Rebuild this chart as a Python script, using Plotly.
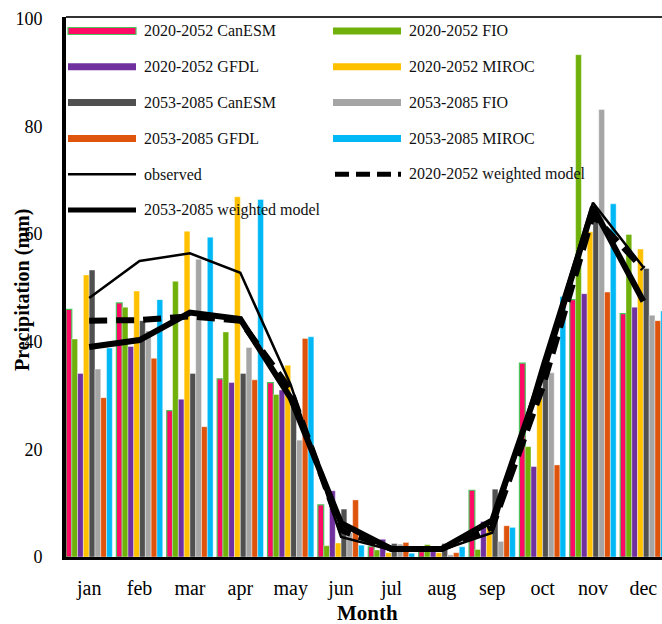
import plotly.graph_objects as go

months = ["jan", "feb", "mar", "apr", "may", "jun", "jul", "aug", "sep", "oct", "nov", "dec"]

canesm_2020 = [46.0, 47.2, 27.2, 33.1, 32.4, 9.7, 1.9, 1.0, 12.4, 36.0, 47.8, 45.2]
fio_2020 = [40.5, 46.4, 51.2, 41.8, 30.2, 2.1, 1.3, 2.3, 1.4, 20.5, 93.3, 59.9]
gfdl_2020 = [34.1, 39.1, 29.3, 32.4, 31.0, 12.3, 3.3, 1.0, 6.6, 16.8, 48.9, 46.4]
miroc_2020 = [52.4, 49.4, 60.5, 66.9, 35.6, 2.6, 0.8, 0.8, 5.6, 29.8, 60.4, 57.2]
canesm_2053 = [53.3, 43.9, 34.1, 34.1, 29.2, 8.9, 2.5, 2.5, 12.6, 33.5, 62.6, 53.6]
fio_2053 = [34.9, 42.0, 55.3, 38.9, 21.7, 4.5, 2.4, 0.4, 2.9, 34.2, 83.1, 44.9]
gfdl_2053 = [29.6, 36.9, 24.2, 32.9, 40.6, 10.6, 2.7, 0.8, 5.8, 17.1, 49.2, 43.9]
miroc_2053 = [38.8, 47.8, 59.4, 66.4, 40.9, 2.2, 0.7, 1.9, 5.5, 48.4, 65.6, 45.7]

observed = [48.1, 55.0, 56.4, 52.8, 32.0, 3.7, 1.3, 1.3, 4.5, 36.0, 65.8, 53.8]
weighted_2020 = [43.9, 44.0, 44.7, 43.9, 31.0, 5.0, 1.5, 1.5, 5.5, 31.5, 63.5, 53.5]
weighted_2053 = [39.0, 40.3, 45.4, 44.2, 29.5, 6.3, 1.5, 1.5, 6.8, 34.0, 65.0, 47.5]

bar_series = [
    ("2020-2052 CanESM", canesm_2020, "#FF0A64"),
    ("2020-2052 FIO", fio_2020, "#6FB10A"),
    ("2020-2052 GFDL", gfdl_2020, "#7030A0"),
    ("2020-2052 MIROC", miroc_2020, "#FFC000"),
    ("2053-2085 CanESM", canesm_2053, "#505050"),
    ("2053-2085 FIO", fio_2053, "#A5A5A5"),
    ("2053-2085 GFDL", gfdl_2053, "#DE540C"),
    ("2053-2085 MIROC", miroc_2053, "#00B8F5"),
]

FONT = "Liberation Serif, Times New Roman, serif"

fig = go.Figure()
for name, vals, col in bar_series:
    if name == "2020-2052 CanESM":
        line = dict(color="#4CC45C", width=1.2)
    else:
        line = dict(color="white", width=0.4)
    fig.add_trace(go.Bar(x=months, y=vals, name=name, marker=dict(color=col, line=line),
                         showlegend=False))

fig.add_trace(go.Scatter(x=months, y=observed, mode="lines", name="observed",
                         line=dict(color="black", width=2.5), showlegend=False))
fig.add_trace(go.Scatter(x=months, y=weighted_2020, mode="lines", name="2020-2052 weighted model",
                         line=dict(color="black", width=6, dash="18px,9px"), showlegend=False))
fig.add_trace(go.Scatter(x=months, y=weighted_2053, mode="lines", name="2053-2085 weighted model",
                         line=dict(color="black", width=6), showlegend=False))

# the page margin is removed by post_script below, so window px == figure px
W, H = 662, 624
L = 66
T = 17
B = H - 557
PW, PH = W - L, H - T - B


def px(x):
    return (x - L) / PW


def py(y):
    return (H - B - y) / PH


shapes = []
annotations = []
legend_items = [
    ("2020-2052 CanESM", 0, 0, "bar", "#FF0A64"),
    ("2020-2052 FIO", 1, 0, "bar", "#6FB10A"),
    ("2020-2052 GFDL", 0, 1, "bar", "#7030A0"),
    ("2020-2052 MIROC", 1, 1, "bar", "#FFC000"),
    ("2053-2085 CanESM", 0, 2, "bar", "#505050"),
    ("2053-2085 FIO", 1, 2, "bar", "#A5A5A5"),
    ("2053-2085 GFDL", 0, 3, "bar", "#DE540C"),
    ("2053-2085 MIROC", 1, 3, "bar", "#00B8F5"),
    ("observed", 0, 4, "obs", None),
    ("2020-2052 weighted model", 1, 4, "dash", None),
    ("2053-2085 weighted model", 0, 5, "thick", None),
]
for text, col, row, kind, color in legend_items:
    x0 = 68 if col == 0 else 333
    x1 = x0 + 68
    yc = 31 + row * 35.8
    if kind == "bar":
        lw = 1.2 if text == "2020-2052 CanESM" else 0
        shapes.append(dict(type="rect", xref="paper", yref="paper",
                           x0=px(x0), x1=px(x1), y0=py(yc + 3.5), y1=py(yc - 3.5),
                           fillcolor=color,
                           line=dict(color="#4CC45C" if lw else color, width=lw if lw else 0)))
    elif kind == "obs":
        shapes.append(dict(type="line", xref="paper", yref="paper", x0=px(x0), x1=px(x1),
                           y0=py(yc), y1=py(yc), line=dict(color="black", width=2.5)))
    elif kind == "dash":
        shapes.append(dict(type="line", xref="paper", yref="paper", x0=px(x0 + 2), x1=px(x1),
                           y0=py(yc), y1=py(yc), line=dict(color="black", width=5, dash="14px,7px")))
    else:
        shapes.append(dict(type="line", xref="paper", yref="paper", x0=px(x0), x1=px(x1),
                           y0=py(yc), y1=py(yc), line=dict(color="black", width=5)))
    annotations.append(dict(x=px(x1 + 6), y=py(yc), xref="paper", yref="paper", text=text,
                            showarrow=False, xanchor="left", yanchor="middle",
                            font=dict(family=FONT, size=16, color="#111")))

shapes.append(dict(type="line", xref="paper", yref="paper", x0=0, x1=1, y0=1, y1=1,
                   line=dict(color="#333", width=2)))

annotations.append(dict(x=px(367), y=py(613), xref="paper", yref="paper", text="<b>Month</b>",
                        showarrow=False, xanchor="center", yanchor="middle",
                        font=dict(family=FONT, size=21, color="black")))
annotations.append(dict(x=px(22), y=py(290), xref="paper", yref="paper",
                        text="<b>Precipitation (mm)</b>", textangle=-90,
                        showarrow=False, xanchor="center", yanchor="middle",
                        font=dict(family=FONT, size=20, color="black")))

fig.update_layout(
    width=W, height=H,
    margin=dict(l=L, r=0, t=T, b=B),
    plot_bgcolor="white", paper_bgcolor="white",
    barmode="group", bargap=0.08, bargroupgap=0,
    shapes=shapes, annotations=annotations,
    showlegend=False,
    font=dict(family=FONT, color="black"),
)
fig.update_xaxes(range=[-0.46, 11.37], showline=True, linewidth=3, linecolor="black",
                 showgrid=False, ticks="", tickfont=dict(family=FONT, size=20, color="black"),
                 ticklabelstandoff=11, zeroline=False)
fig.update_yaxes(range=[0, 100.3], tickvals=[0, 20, 40, 60, 80, 100], showline=True,
                 linewidth=4, linecolor="black", showgrid=False, ticks="",
                 tickfont=dict(family=FONT, size=18, color="black"), ticklabelstandoff=16,
                 zeroline=False)

fig.write_html("out.html", config={"displayModeBar": False},
               post_script="document.body.style.margin='0';document.body.style.overflow='hidden';")
